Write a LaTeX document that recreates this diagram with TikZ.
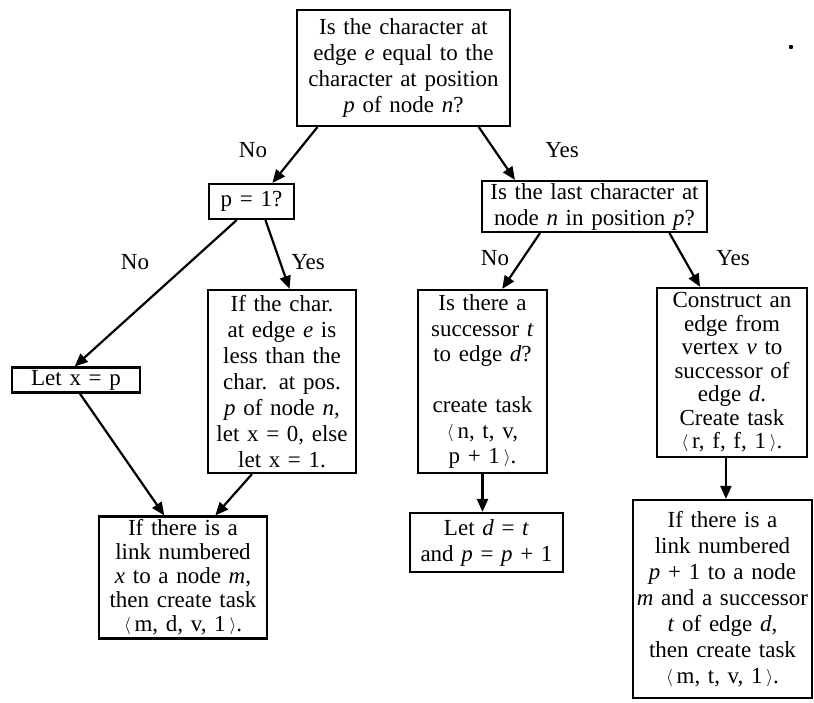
\documentclass[tikz,border=0pt]{standalone}
\usepackage{fontspec}
\setmainfont{Liberation Serif}
\usetikzlibrary{arrows.meta,calc}
\tikzset{
  fbox/.style={draw, line width=2.2pt, align=center, inner xsep=2pt, inner ysep=1pt,
    font=\fontsize{23}{26}\selectfont, anchor=center},
  lbl/.style={font=\fontsize{23}{26}\selectfont, inner sep=0pt},
  arr/.style={line width=2.2pt, -{Triangle[length=13pt,width=11pt]}},
}
\newcommand{\ang}[1]{\raisebox{1pt}{\fontsize{17}{17}\selectfont$\langle$}\,#1\,\raisebox{1pt}{\fontsize{17}{17}\selectfont$\rangle$}}
\begin{document}
\begin{tikzpicture}[x=1pt,y=-1pt]
\useasboundingbox (0,0) rectangle (814,702);
% boxes
\node[fbox, text width=209pt, minimum height=116pt] (top) at (403.5,68)
  {Is the character at\\ edge \textit{e} equal to the\\ character at position\\ \textit{p} of node \textit{n}?};
\node[fbox, text width=81pt, minimum height=35pt] (p1) at (251.5,201.5) {p = 1?};
\node[fbox, text width=124pt, minimum height=25pt] (letx) at (76,380) {Let x = p};
\node[fbox, text width=144pt, minimum height=183pt] (ifchar) at (282,381.5)
  {If the char.\\ at edge \textit{e} is\\ less than the\\ char. at pos.\\ \textit{p} of node \textit{n},\\ let x = 0, else\\ let x = 1.};
\node[fbox, text width=164pt, minimum height=122pt, font=\fontsize{23}{24}\selectfont] (linkx) at (183,577.5)
  {If there is a\\ link numbered\\ \textit{x} to a node \textit{m},\\ then create task\\ \ang{m, d, v, 1}.};
\node[fbox, text width=221pt, minimum height=51pt] (last) at (594.5,206.5)
  {Is the last character at\\ node \textit{n} in position \textit{p}?};
\node[fbox, text width=125pt, minimum height=183pt, font=\fontsize{23}{25.5}\selectfont] (isthere) at (482.5,381.5)
  {Is there a\\ successor \textit{t}\\ to edge \textit{d}?\\[25.5pt] create task\\ \ang{n, t, v,\\ p + 1}.};
\node[fbox, text width=149pt, minimum height=59pt] (letd) at (486.5,542.5)
  {Let \textit{d} = \textit{t}\\ and \textit{p} = \textit{p} + 1};
\node[fbox, text width=146pt, minimum height=169pt, font=\fontsize{23}{23.5}\selectfont] (construct) at (732,372.5)
  {Construct an\\ edge from\\ vertex \textit{v} to\\ successor of\\ edge \textit{d}.\\ Create task\\ \ang{r, f, f, 1}.};
\node[fbox, text width=175pt, minimum height=198pt] (linkp) at (722.5,599)
  {If there is a\\ link numbered\\ \textit{p} + 1 to a node\\ \textit{m} and a successor\\ \textit{t} of edge \textit{d},\\ then create task\\ \ang{m, t, v, 1}.};
% labels
\node[lbl] (no1) at (253,150) {No};
\node[lbl] (yes1) at (562,150) {Yes};
\node[lbl] (no2) at (135,262) {No};
\node[lbl] (yes2) at (308,262) {Yes};
\node[lbl] (no3) at (495,258) {No};
\node[lbl] (yes3) at (733,258) {Yes};
% dot
\fill (791,47) circle (2.2pt);
% connectors
\draw[arr] ($(top.south west)!0.10!(top.south east)$) -- ($(p1.north west)!0.74!(p1.north east)$);
\draw[arr] ($(top.south west)!0.85!(top.south east)$) -- ($(last.north west)!0.15!(last.north east)$);
\draw[arr] ($(p1.south west)!0.33!(p1.south east)$) -- ($(letx.north west)!0.49!(letx.north east)$);
\draw[arr] ($(p1.south west)!0.66!(p1.south east)$) -- ($(ifchar.north west)!0.55!(ifchar.north east)$);
\draw[arr] ($(letx.south west)!0.53!(letx.south east)$) -- ($(linkx.north west)!0.39!(linkx.north east)$);
\draw[arr] ($(ifchar.south west)!0.30!(ifchar.south east)$) -- ($(linkx.north west)!0.69!(linkx.north east)$);
\draw[arr] ($(last.south west)!0.26!(last.south east)$) -- ($(isthere.north west)!0.65!(isthere.north east)$);
\draw[arr] ($(last.south west)!0.83!(last.south east)$) -- ($(construct.north west)!0.29!(construct.north east)$);
\coordinate (c1) at ($(isthere.south west)!0.50!(isthere.south east)$);
\draw[arr] (c1) -- (c1 |- letd.north);
\coordinate (c2) at ($(construct.south west)!0.46!(construct.south east)$);
\draw[arr] (c2) -- (c2 |- linkp.north);
\end{tikzpicture}
\end{document}
